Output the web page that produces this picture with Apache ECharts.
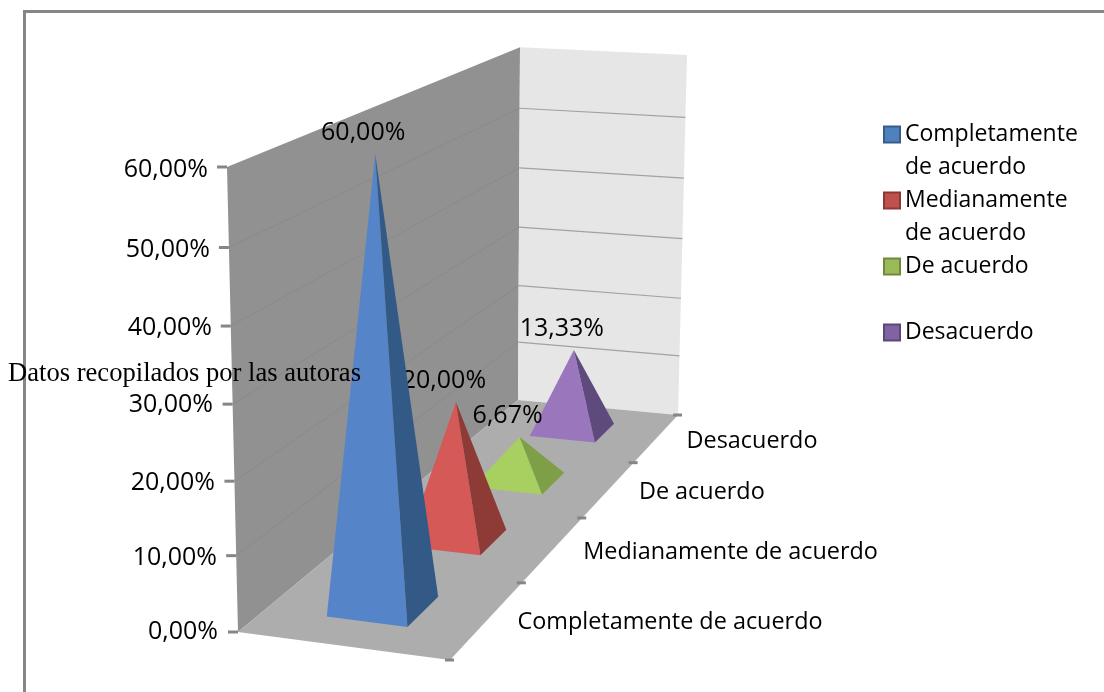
<!DOCTYPE html>
<html><head><meta charset="utf-8">
<script src="https://cdn.jsdelivr.net/npm/echarts@6/dist/echarts.min.js"></script>
<style>html,body{margin:0;background:#fff}#c{width:1104px;height:692px}</style></head>
<body><div id="c"></div>
<script>
const categories = ['Completamente de acuerdo','Medianamente de acuerdo','De acuerdo','Desacuerdo'];
const values = [60, 20, 6.67, 13.33];
const valueLabels = ['60,00%','20,00%','6,67%','13,33%'];
const legendLines = ['Completamente\nde acuerdo','Medianamente\nde acuerdo','De acuerdo\n\u00a0','Desacuerdo\n\u00a0'];
const frontColors = ['#5585c8','#d55a57','#a8d060','#9a77bd'];
const sideColors = ['#335a86','#8e3a36','#7e9f47','#5f4a7e'];
const legendFill = ['#4f81bd','#c0504d','#9bbb59','#8064a2'];
const legendEdge = ['#385d8a','#8c3836','#71893f','#5c4776'];
const yTicks = [0,10,20,30,40,50,60];

const FONT = '"Open Sans"';
const FS = 25;
const Q = {x0:238,y0:632, x1:450,y1:660, x2:678,y2:415, x3:518,y3:400};
const dx1=Q.x1-Q.x2, dx2=Q.x3-Q.x2, sx=Q.x0-Q.x1+Q.x2-Q.x3;
const dy1=Q.y1-Q.y2, dy2=Q.y3-Q.y2, sy=Q.y0-Q.y1+Q.y2-Q.y3;
const den=dx1*dy2-dx2*dy1;
const g=(sx*dy2-dx2*sy)/den, hh=(dx1*sy-sx*dy1)/den;
const a=Q.x1-Q.x0+g*Q.x1, b=Q.x3-Q.x0+hh*Q.x3, c0=Q.x0;
const d_=Q.y1-Q.y0+g*Q.y1, e=Q.y3-Q.y0+hh*Q.y3, f=Q.y0;
function P(u,d,h){
  const w=g*u+hh*d+1;
  const x=(a*u+b*d+c0)/w, y=(d_*u+e*d+f)/w;
  const lean=-11+13*d+7*u*d;
  return [x+h*lean, y-h*465/Math.pow(w,.88)];
}
const warp=[0,.0025,.009,.01,.0087,.0065,0];
function warpAt(v){
  const i=Math.min(5,Math.floor(v/10)), t=v/10-i;
  return warp[i]*(1-t)+warp[i+1]*t;
}
const labelNudge=[[3,0],[6,1],[8,3],[7.5,5],[8,6],[7,8],[4,10]];

function fractions(params,api,cat,val){
  const p0=api.coord([0,0]), pT=api.coord([0,60]), pc=api.coord([cat,val]);
  const cs=params.coordSys;
  return {d:(pc[0]-cs.x)/cs.width, h:(p0[1]-pc[1])/(p0[1]-pT[1])-warpAt(val), half:api.size([1,0])[0]/cs.width/2};
}
function poly(points,fill,z){return {type:'polygon',z2:z||0,shape:{points},style:{fill,stroke:null}};}
function line(p,q,stroke,lw){return {type:'line',shape:{x1:p[0],y1:p[1],x2:q[0],y2:q[1]},style:{stroke,lineWidth:lw},z2:2};}

function renderRoom(params,api){
  const ch=[];
  ch.push(poly([P(0,0,0),P(0,1,0),P(0,1,1),P(0,0,1)],'#919191'));
  ch.push(poly([P(0,1,0),P(1,1,0),P(1,1,1),P(0,1,1)],'#e6e6e6'));
  ch.push(poly([P(0,0,0),P(1,0,0),P(1,1,0),P(0,1,0)],'#adadad',1));
  yTicks.forEach((t,i)=>{
    const h=fractions(params,api,0,t).h;
    const l=P(0,0,h), m=P(0,1,h), r=P(1,1,h);
    if(i>0&&i<6){ch.push(line(l,m,'#8a8a8a',1)); ch.push(line(m,r,'#a2a2a2',1.2));}
    ch.push(line([l[0]-10,l[1]],[l[0],l[1]],'#868686',3));
  });
  [0,.25,.5,.75,1].forEach(d=>{
    const p=P(1,d,0);
    ch.push(line([p[0]-5,p[1]],[p[0]+4,p[1]],'#868686',3));
  });
  categories.forEach((name,i)=>{
    const p=P(1,fractions(params,api,i,0).d,0);
    ch.push({type:'text',z2:3,style:{text:name,x:p[0]+30,y:p[1]+3,align:'left',verticalAlign:'middle',fill:'#000',font:'23.4px '+FONT}});
  });
  return {type:'group',children:ch};
}
function pyramidRenderer(i){
  return function(params,api){
    const cat=api.value(0), val=api.value(1);
    const fr=fractions(params,api,cat,val);
    const uL=.30, uR=.69, uc=.50, hd=fr.half*.40;
    const FL=P(uL,fr.d-hd,0), FR=P(uR,fr.d-hd,0), BR=P(uR,fr.d+hd,0), A=P(uc,fr.d,fr.h);
    return {type:'group',children:[
      poly([FL,FR,A],frontColors[i]),
      poly([FR,BR,A],sideColors[i]),
      {type:'text',z2:5,style:{text:valueLabels[i],x:A[0]-12,y:A[1]-21,align:'center',verticalAlign:'middle',fill:'#000',font:FS+'px '+FONT}}
    ]};
  };
}
const rich={};
labelNudge.forEach((n,i)=>{rich['n'+i]={fontFamily:'Open Sans',fontSize:FS,color:'#000',padding:[n[0]*2,n[1],0,0]};});

const series=[{type:'custom',name:'room',coordinateSystem:'cartesian2d',data:[[0,0]],renderItem:renderRoom,z:1,silent:true,clip:false}];
categories.forEach((name,i)=>series.push({
  type:'custom',name,coordinateSystem:'cartesian2d',data:[[i,values[i]]],encode:{x:0,y:1},
  renderItem:pyramidRenderer(i),z:10-i,clip:false,itemStyle:{color:legendFill[i]}
}));

const chart=echarts.init(document.getElementById('c'),null,{renderer:'canvas'});
chart.setOption({
  animation:false,
  backgroundColor:'#fff',
  grid:{left:228,top:166,bottom:63,width:450,containLabel:false},
  xAxis:{type:'category',data:categories,show:false},
  yAxis:{type:'value',min:0,max:60,interval:10,axisLine:{show:false},axisTick:{show:false},splitLine:{show:false},
    axisLabel:{margin:10,hideOverlap:false,formatter:v=>{const i=yTicks.indexOf(v);return '{n'+i+'|'+v+',00%}';},rich}},
  legend:{orient:'vertical',left:878,top:113,itemGap:0,itemWidth:16,itemHeight:49,align:'left',selectedMode:false,
    textStyle:{fontFamily:'Open Sans',fontSize:23,color:'#000',lineHeight:33},
    formatter:n=>legendLines[categories.indexOf(n)],
    data:categories.map((name,i)=>({name,icon:'path://M0 0H16V16H0ZM0 49',itemStyle:{color:legendFill[i],borderColor:legendEdge[i],borderWidth:2}}))},
  graphic:[
    {type:'polyline',z:50,shape:{points:[[24.5,692],[24.5,11.5],[1104,11.5]]},style:{stroke:'#868686',lineWidth:3,fill:null}},
    {type:'text',z:60,style:{text:'Datos recopilados por las autoras',x:8,y:374,verticalAlign:'middle',fill:'#000',font:'26.6px "Liberation Serif"'}}
  ],
  series
});
</script></body></html>
